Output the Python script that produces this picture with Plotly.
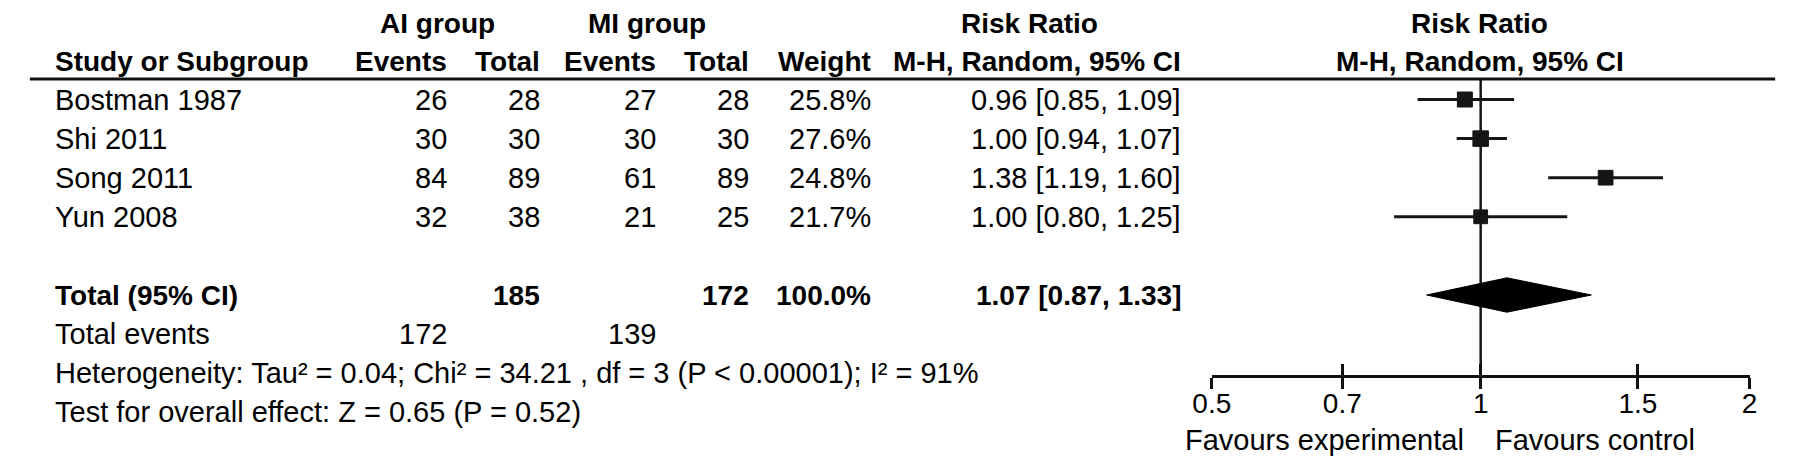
import math
import plotly.graph_objects as go

# ---------------- data ----------------
studies = ["Bostman 1987", "Shi 2011", "Song 2011", "Yun 2008"]
ai_events = [26, 30, 84, 32]
ai_total = [28, 30, 89, 38]
mi_events = [27, 30, 61, 21]
mi_total = [28, 30, 89, 25]
weights = [25.8, 27.6, 24.8, 21.7]
rr = [0.96, 1.00, 1.38, 1.00]
ci_low = [0.85, 0.94, 1.19, 0.80]
ci_high = [1.09, 1.07, 1.60, 1.25]

total_ai = 185
total_mi = 172
total_weight = 100.0
pooled_rr = 1.07
pooled_low = 0.87
pooled_high = 1.33
events_ai = 172
events_mi = 139
heterogeneity_text = "Heterogeneity: Tau² = 0.04; Chi² = 34.21 , df = 3 (P < 0.00001); I² = 91%"
overall_text = "Test for overall effect: Z = 0.65 (P = 0.52)"
tick_vals = [0.5, 0.7, 1, 1.5, 2]
tick_text = ["0.5", "0.7", "1", "1.5", "2"]

# ---------------- geometry ----------------
W, H = 1795, 470
ROW0, PITCH = 99.5, 39.1      # pixel centre of first study row, row pitch
AXIS_PX = 375                 # pixel y of the forest-plot axis line
FONT = "Liberation Sans, Arial, sans-serif"
FS_B = 28      # bold header / total text
FS_R = 29      # regular text
INK = "#000000"


def px2row(py):
    return (py - ROW0) / PITCH


def row2paper(r):
    return 1 - (ROW0 + PITCH * r) / H


def px2paper(py):
    return 1 - py / H


r_top = px2row(0)
r_axis = px2row(AXIS_PX)
r_hline = px2row(79)

study_rows = list(range(len(studies)))
ROW_TOTAL, ROW_EVENTS, ROW_HET, ROW_TEST = 5, 6, 7, 8

fig = go.Figure()

# confidence intervals + squares
sizes = [15 * math.sqrt(w / 25.8) for w in weights]
fig.add_trace(go.Scatter(
    x=rr, y=study_rows, mode="markers",
    marker=dict(symbol="square", size=sizes, color="#151515",
                line=dict(width=1, color="#151515"), opacity=1),
    error_x=dict(type="data", symmetric=False,
                 array=[h - m for h, m in zip(ci_high, rr)],
                 arrayminus=[m - l for m, l in zip(rr, ci_low)],
                 width=0, thickness=3, color="#151515"),
    showlegend=False, hoverinfo="skip"))

# null line
fig.add_trace(go.Scatter(x=[1, 1], y=[r_hline, r_axis], mode="lines",
                         line=dict(color="#151515", width=2.5),
                         showlegend=False, hoverinfo="skip"))

# pooled diamond
dh = 0.44
fig.add_trace(go.Scatter(
    x=[pooled_low, pooled_rr, pooled_high, pooled_rr, pooled_low],
    y=[ROW_TOTAL, ROW_TOTAL - dh, ROW_TOTAL, ROW_TOTAL + dh, ROW_TOTAL],
    mode="lines", fill="toself", fillcolor="#000000",
    line=dict(color="#000000", width=1),
    showlegend=False, hoverinfo="skip"))

# invisible trace on second x axis (draws the upper half of the ticks)
fig.add_trace(go.Scatter(x=[1], y=[r_axis + 5], xaxis="x2", mode="markers",
                         marker=dict(opacity=0), showlegend=False, hoverinfo="skip"))

ann = []


def text(t, x_px, y_paper, anchor="right", bold=False):
    ann.append(dict(text=f"<b>{t}</b>" if bold else t, x=x_px / W, xref="paper",
                    y=y_paper, yref="paper", xanchor=anchor, yanchor="middle",
                    showarrow=False,
                    font=dict(family=FONT, size=FS_B if bold else FS_R, color=INK)))


y_h1 = px2paper(23)
y_h2 = px2paper(61)
# header row 1
text("AI group", 425, y_h1, "center", True)
text("MI group", 638, y_h1, "center", True)
text("Risk Ratio", 1026, y_h1, "center", True)
text("Risk Ratio", 1483, y_h1, "center", True)
# header row 2
text("Study or Subgroup", 35, y_h2, "left", True)
text("Events", 437, y_h2, "right", True)
text("Total", 531, y_h2, "right", True)
text("Events", 649, y_h2, "right", True)
text("Total", 743, y_h2, "right", True)
text("Weight", 867, y_h2, "right", True)
text("M-H, Random, 95% CI", 1182, y_h2, "right", True)
text("M-H, Random, 95% CI", 1483, y_h2, "center", True)

# study rows
for i, s in enumerate(studies):
    yp = row2paper(study_rows[i])
    text(s, 35, yp, "left")
    text(str(ai_events[i]), 437, yp)
    text(str(ai_total[i]), 531, yp)
    text(str(mi_events[i]), 649, yp)
    text(str(mi_total[i]), 743, yp)
    text(f"{weights[i]:.1f}%", 867, yp)
    text(f"{rr[i]:.2f} [{ci_low[i]:.2f}, {ci_high[i]:.2f}]", 1182, yp)

# totals
yp = row2paper(ROW_TOTAL)
text("Total (95% CI)", 35, yp, "left", True)
text(str(total_ai), 531, yp, "right", True)
text(str(total_mi), 743, yp, "right", True)
text(f"{total_weight:.1f}%", 867, yp, "right", True)
text(f"{pooled_rr:.2f} [{pooled_low:.2f}, {pooled_high:.2f}]", 1182, yp, "right", True)
yp = row2paper(ROW_EVENTS)
text("Total events", 35, yp, "left")
text(str(events_ai), 437, yp)
text(str(events_mi), 649, yp)
text(heterogeneity_text, 35, row2paper(ROW_HET), "left")
text(overall_text, 35, row2paper(ROW_TEST), "left")

# favours labels
text("Favours experimental", 1469, px2paper(440), "right")
text("Favours control", 1497, px2paper(440), "left")

xr = [math.log10(0.5), math.log10(2)]
xdom = [1211 / W, 1757 / W]

fig.update_layout(
    width=W, height=H, margin=dict(l=0, r=0, t=0, b=0),
    paper_bgcolor="white", plot_bgcolor="white",
    annotations=ann,
    shapes=[dict(type="line", xref="paper", yref="paper", x0=11 / W, x1=1783 / W,
                 y0=px2paper(79), y1=px2paper(79), line=dict(color="#111111", width=3))],
    xaxis=dict(type="log", range=xr, domain=xdom, anchor="y",
               showline=True, linecolor="#111111", linewidth=3,
               ticks="outside", ticklen=11, tickwidth=2.5, tickcolor="#111111",
               tickvals=tick_vals, ticktext=tick_text, ticklabelstandoff=-10,
               tickfont=dict(family=FONT, size=FS_B, color=INK),
               showgrid=False, zeroline=False, fixedrange=True),
    xaxis2=dict(type="log", range=xr, overlaying="x", anchor="y", side="bottom",
                showline=False, ticks="inside", ticklen=11, tickwidth=2.5,
                tickcolor="#111111", tickvals=tick_vals, showticklabels=False,
                showgrid=False, zeroline=False, fixedrange=True),
    yaxis=dict(range=[r_axis, r_top], domain=[1 - AXIS_PX / H, 1],
               visible=False, showgrid=False, zeroline=False, fixedrange=True),
)

fig.write_html("out.html", config={"displayModeBar": False},
               post_script="document.body.style.margin='0';document.body.style.overflow='hidden';")
